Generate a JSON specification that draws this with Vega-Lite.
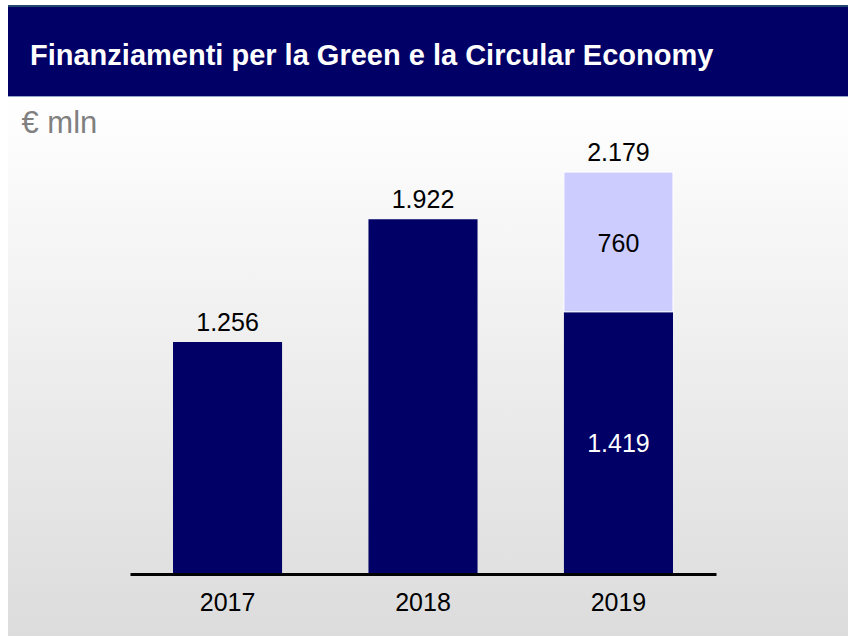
{
  "$schema": "https://vega.github.io/schema/vega-lite/v6.json",
  "width": 840,
  "height": 631,
  "autosize": {"type": "none"},
  "padding": {"left": 8, "top": 5, "right": 0, "bottom": 0},
  "background": "#ffffff",
  "config": {
    "font": "Liberation Sans",
    "locale": {"number": {"decimal": ",", "thousands": ".", "grouping": [3], "currency": ["€", ""]}},
    "view": {
      "stroke": null,
      "fill": {
        "gradient": "linear", "x1": 0, "y1": 0, "x2": 0, "y2": 1,
        "stops": [
          {"offset": 0, "color": "#24476e"},
          {"offset": 0.0032, "color": "#24476e"},
          {"offset": 0.0032, "color": "#000066"},
          {"offset": 0.1442, "color": "#000066"},
          {"offset": 0.1442, "color": "#8fa6c7"},
          {"offset": 0.1458, "color": "#8fa6c7"},
          {"offset": 0.1458, "color": "#ffffff"},
          {"offset": 1, "color": "#dcdcdc"}
        ]
      }
    },
    "axisY": {
      "title": "€ mln", "orient": "left", "domain": false, "ticks": false, "labels": false, "grid": false,
      "titleAngle": 0, "titleAlign": "left", "titleBaseline": "alphabetic",
      "titleX": 13, "titleY": 127, "titleFontSize": 31, "titleFontWeight": "normal",
      "titleColor": "#808080", "titleFont": "Liberation Sans"
    }
  },
  "title": {
    "text": "Finanziamenti per la Green e la Circular Economy",
    "anchor": "start",
    "frame": "group",
    "offset": -89,
    "dx": 22,
    "color": "#ffffff",
    "fontSize": 29,
    "fontWeight": "bold",
    "font": "Liberation Sans",
    "baseline": "alphabetic"
  },
  "data": {
    "values": [
      {"year": "2017", "segment": "a", "value": 1256},
      {"year": "2018", "segment": "a", "value": 1922},
      {"year": "2019", "segment": "a", "value": 1419},
      {"year": "2019", "segment": "b", "value": 760}
    ]
  },
  "layer": [
    {
      "mark": {"type": "bar"},
      "encoding": {
        "x": {
          "field": "year", "type": "nominal",
          "scale": {"type": "band", "range": [122, 708], "paddingInner": 0.442, "paddingOuter": 0.22},
          "axis": {
            "title": null, "orient": "bottom", "offset": -62,
            "domainColor": "#000000", "domainWidth": 3,
            "ticks": false, "tickSize": 0,
            "labelFontSize": 25, "labelColor": "#000000", "labelPadding": 16,
            "labelFont": "Liberation Sans", "labelAngle": 0, "grid": false
          }
        },
        "y": {
          "field": "value", "type": "quantitative", "stack": "zero",
          "scale": {"domain": [0, 2500], "range": [568, 108], "nice": false, "zero": true},
          "axis": {"title": "€ mln"}
        },
        "color": {
          "field": "segment", "type": "nominal",
          "scale": {"domain": ["a", "b"], "range": ["#000066", "#ccccff"]},
          "legend": null
        },
        "order": {"field": "segment"},
        "stroke": {"value": "#ffffff"},
        "strokeWidth": {"condition": {"test": "datum.segment === 'b'", "value": 1}, "value": 0}
      }
    },
    {
      "transform": [
        {"aggregate": [{"op": "sum", "field": "value", "as": "total"}], "groupby": ["year"]}
      ],
      "mark": {"type": "text", "baseline": "alphabetic", "dy": -11, "fontSize": 25, "color": "#000000"},
      "encoding": {
        "x": {"field": "year", "type": "nominal"},
        "y": {"field": "total", "type": "quantitative", "axis": {"title": "€ mln"}},
        "text": {"field": "total", "type": "quantitative", "format": ",.0f"}
      }
    },
    {
      "transform": [
        {"filter": "datum.year === '2019'"},
        {"stack": "value", "groupby": ["year"], "sort": [{"field": "segment", "order": "ascending"}], "as": ["v0", "v1"]},
        {"fold": ["v0", "v1"], "as": ["edge", "pos"]}
      ],
      "mark": {"type": "text", "baseline": "middle", "dy": 2, "fontSize": 25},
      "encoding": {
        "x": {"field": "year", "type": "nominal"},
        "y": {"field": "pos", "type": "quantitative", "aggregate": "mean", "stack": null, "axis": {"title": "€ mln"}},
        "detail": {"field": "segment", "type": "nominal"},
        "text": {"field": "value", "type": "quantitative", "aggregate": "min", "format": ",.0f"},
        "color": {"condition": {"test": "datum.segment === 'a'", "value": "#ffffff"}, "value": "#000000"}
      }
    }
  ]
}
